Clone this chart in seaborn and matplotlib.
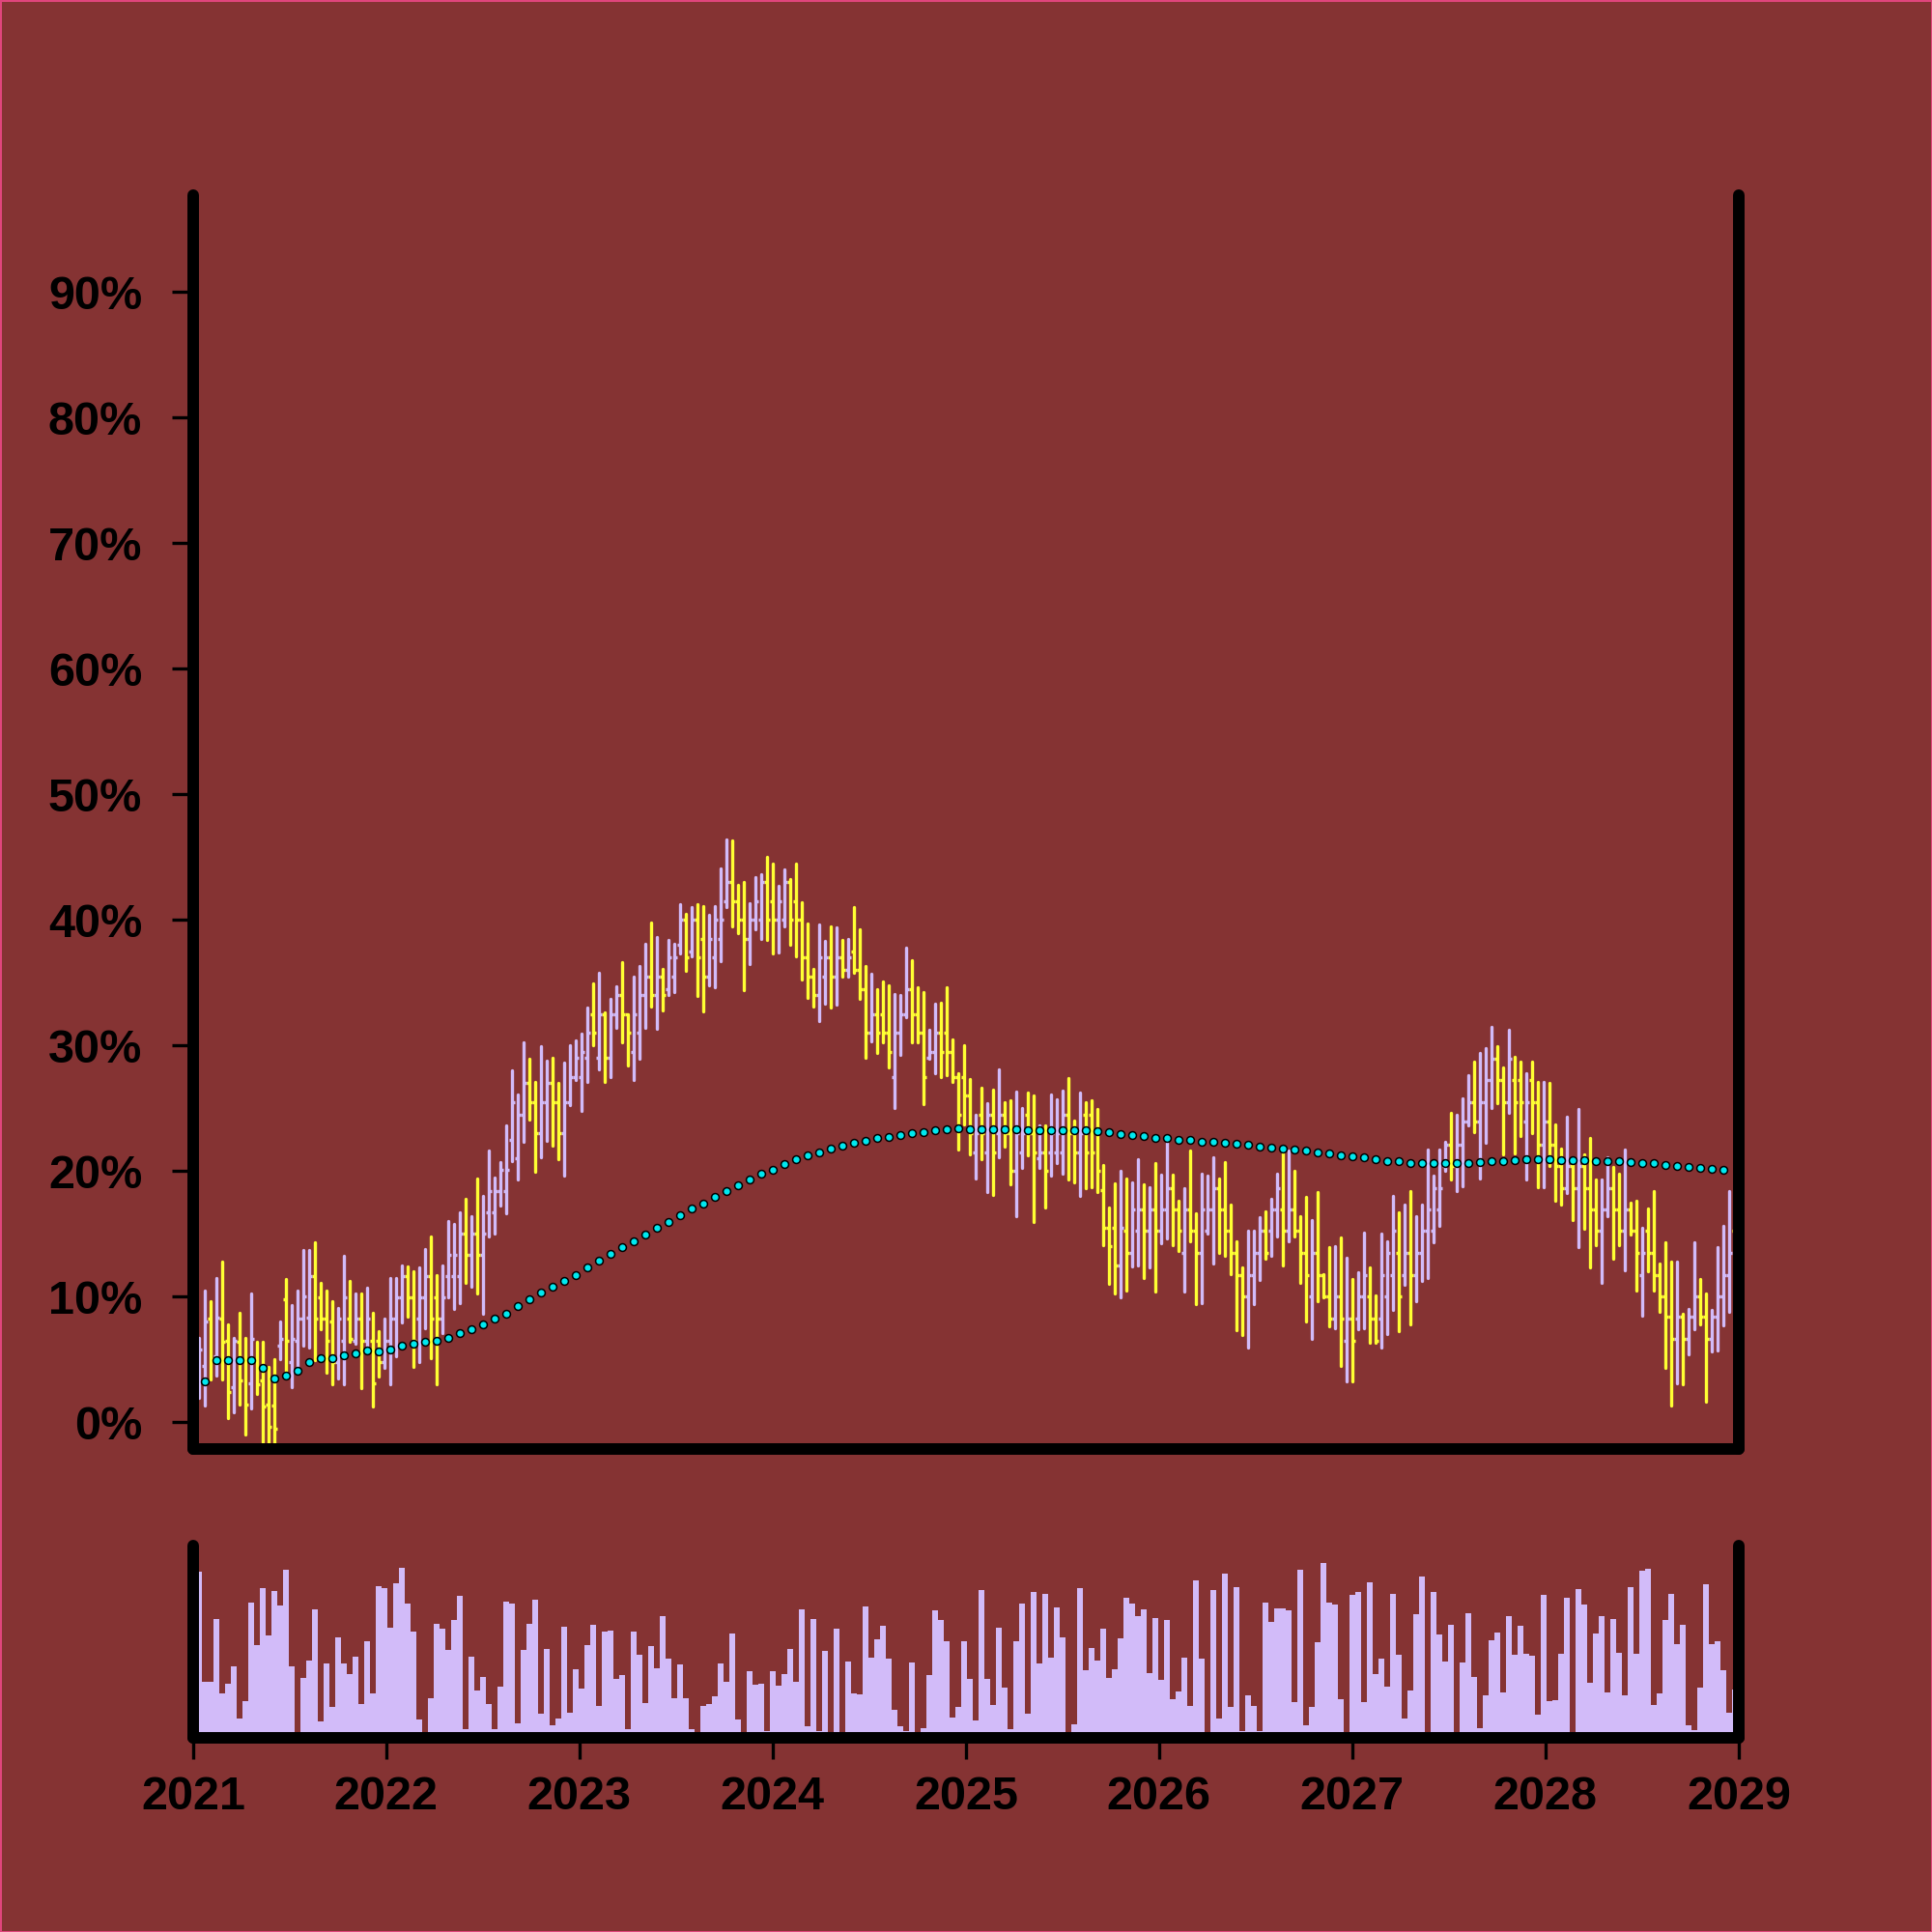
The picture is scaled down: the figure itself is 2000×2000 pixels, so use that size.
import numpy as np
import pandas as pd
import matplotlib
matplotlib.use("Agg")
import matplotlib.pyplot as plt
import matplotlib.dates as mdates
import seaborn as sns

# one bar every ~11 days, 266 bars between 2021 and 2029
dates = pd.date_range("2021-01-12", "2028-12-25", periods=266)

opens = [
    2.6, 4.5, 8.2, 5.2, 8.2, 6.5, 2.8, 6.4, 4.9, 3.1,
    4.9, 3.3, 1.4, 1.3, 6.1, 9.8, 4.8, 6.5, 8.2, 8.3,
    11.6, 9.9, 8.2, 8.0, 4.8, 6.5, 8.2, 6.5, 8.2, 6.5,
    6.5, 6.5, 4.8, 6.5, 8.2, 9.9, 11.6, 9.9, 8.2, 9.9,
    11.6, 9.9, 8.2, 11.6, 11.6, 11.6, 15.0, 13.3, 15.0, 13.3,
    16.7, 16.7, 18.4, 18.4,
    22.5, 21.0, 24.5, 27.0, 25.5, 23.0, 25.5, 27.0, 25.5, 23.0,
    25.5, 27.5, 27.5, 29.0, 32.5, 29.0, 32.5, 29.0, 32.5, 34.0,
    32.5, 29.5, 31.0, 34.0, 35.5, 34.0, 35.5, 34.5, 35.5, 38.0,
    40.0, 37.5, 40.0, 38.5, 35.5, 37.0, 38.5, 41.5, 43.0, 41.5,
    40.0, 38.5, 40.0, 40.0, 43.0, 41.5, 40.0, 40.0, 43.0, 41.5,
    40.0, 37.0, 35.5,
    34.0, 35.5, 37.0, 35.5, 37.0, 36.0, 37.5, 36.0, 34.5, 31.0,
    32.5, 32.5, 31.0, 27.5, 31.0, 32.5, 34.5, 32.5, 31.0, 29.0,
    29.5, 31.0, 31.0, 29.5, 27.5, 27.5, 26.0, 21.5, 24.5, 21.5,
    24.5, 23.0, 24.5, 23.0, 20.0, 21.5, 24.5, 23.0, 21.0, 21.5,
    21.5, 21.5, 21.5, 24.5, 23.0, 21.5, 24.5, 24.5, 23.0, 18.5,
    15.5, 15.5, 12.5,
    15.2, 13.5, 15.2, 16.9, 15.2, 16.9, 15.2, 16.9, 18.6, 16.9,
    13.5, 16.9, 15.2, 13.5, 15.2, 16.9, 18.6, 16.9, 15.2, 13.5,
    11.7, 10.0, 11.7, 13.5, 15.2, 15.2, 16.9, 16.9, 15.2, 16.9,
    15.2, 13.5, 10.0, 13.5, 11.7, 10.0, 8.2, 10.0, 6.5, 8.2,
    8.2, 10.0, 10.0, 8.2, 8.2, 10.0, 11.7, 13.5, 11.7, 13.5,
    11.7, 13.5,
    15.2, 15.2, 16.9, 20.4, 22.1, 20.4, 22.1, 23.9, 25.5, 23.9,
    25.5, 27.2, 28.9, 27.2, 25.5, 27.2, 27.2, 23.9, 27.2, 25.5,
    22.1, 23.9, 22.1, 20.4, 18.6, 20.4, 18.6, 20.4, 18.6, 16.9,
    15.2, 16.9, 18.6, 16.9, 15.2, 16.9, 15.2, 11.7, 15.2, 13.5,
    11.7, 10.0, 8.4, 6.6, 8.4, 6.6, 8.4, 10.0, 8.4, 6.6,
    8.4, 10.0, 11.7, 15.2,
]

highs = [
    6.7, 10.5, 9.6, 11.5, 12.8, 7.8, 6.7, 8.7, 6.7, 10.2,
    6.4, 6.4, 4.4, 5.0, 8.0, 11.4, 9.3, 10.5, 13.7, 13.7,
    14.3, 11.1, 10.5, 9.6, 9.1, 13.2, 11.2, 10.2, 10.2, 10.7,
    8.7, 7.2, 8.2, 11.5, 11.5, 12.5, 12.4, 12.0, 12.3, 13.8,
    14.8, 11.7, 12.5, 16.0, 15.8, 16.7, 17.8, 16.4, 19.4, 18.0,
    21.6, 19.5, 20.7, 23.6,
    28.0, 26.1, 30.2, 28.9, 27.1, 29.9, 28.8, 29.0, 27.0, 28.6,
    30.0, 30.4, 30.9, 33.0, 34.9, 35.8, 32.6, 33.7, 34.7, 36.6,
    32.5, 35.5, 36.3, 38.1, 39.8, 38.6, 36.1, 38.4, 38.1, 41.2,
    40.5, 41.0, 41.2, 41.1, 40.4, 41.1, 44.1, 46.4, 46.3, 42.8,
    43.0, 41.3, 43.4, 43.6, 45.0, 44.5, 42.7, 44.0, 43.2, 44.5,
    41.4, 39.7, 36.1,
    39.6, 38.3, 39.5, 39.4, 38.4, 38.5, 41.0, 39.2, 36.3, 35.7,
    34.5, 35.1, 34.8, 34.1, 34.0, 37.8, 36.8, 34.6, 34.2, 31.2,
    33.3, 33.4, 34.6, 30.5, 27.8, 30.0, 27.3, 24.5, 26.6, 25.4,
    26.5, 28.1, 25.5, 25.6, 26.3, 25.0, 26.2, 26.0, 23.6, 23.6,
    26.1, 25.7, 26.4, 27.4, 24.0, 26.2, 25.5, 25.6, 24.9, 20.5,
    17.1, 19.0, 20.0,
    19.4, 19.1, 20.9, 18.9, 18.7, 20.6, 19.7, 22.2, 19.7, 17.6,
    18.6, 21.6, 16.6, 19.8, 19.6, 21.1, 19.4, 20.7, 17.3, 14.4,
    12.3, 15.2, 15.2, 16.3, 16.8, 17.8, 19.8, 21.5, 21.6, 20.0,
    16.4, 17.9, 16.1, 18.3, 11.8, 13.9, 14.0, 14.7, 13.1, 11.4,
    11.9, 15.1, 12.3, 10.1, 15.0, 14.4, 18.0, 16.7, 17.3, 18.4,
    16.4, 17.3,
    21.7, 19.6, 21.7, 22.3, 24.6, 24.5, 25.8, 27.6, 28.7, 29.4,
    29.8, 31.5, 29.9, 28.2, 31.2, 29.1, 28.7, 27.8, 28.7, 27.1,
    27.1, 27.0, 23.7, 21.8, 24.3, 20.5, 24.9, 21.3, 22.6, 19.3,
    19.3, 21.1, 20.3, 19.8, 21.7, 17.5, 17.6, 15.5, 17.0, 18.4,
    12.6, 14.3, 12.8, 12.8, 8.6, 9.0, 14.3, 11.4, 10.2, 8.9,
    13.9, 15.6, 18.4, 16.0,
]

lows = [
    1.9, 1.3, 3.4, 3.7, 3.4, 0.3, 0.8, 1.4, -1.0, 1.1,
    2.2, -1.6, -2.5, -2.6, 5.0, 4.0, 2.8, 4.3, 6.1, 5.9,
    4.9, 7.4, 3.9, 3.0, 3.5, 3.0, 6.4, 6.2, 2.7, 5.7,
    1.2, 3.6, 4.3, 3.0, 5.2, 7.9, 8.4, 4.4, 4.8, 7.5,
    5.1, 3.0, 7.1, 9.9, 9.0, 9.5, 11.1, 10.8, 10.2, 8.6,
    14.8, 15.0, 17.2, 16.6,
    20.8, 19.3, 22.3, 24.1, 19.9, 21.1, 22.4, 22.0, 20.9, 19.6,
    25.2, 27.2, 24.8, 27.1, 30.0, 28.1, 27.1, 27.5, 31.4, 30.2,
    28.4, 27.2, 28.9, 31.4, 33.1, 31.3, 32.8, 34.0, 34.2, 37.3,
    35.9, 37.1, 33.9, 32.7, 34.8, 34.6, 36.7, 41.0, 39.5, 38.9,
    34.4, 36.5, 39.2, 38.5, 38.4, 37.3, 37.4, 39.5, 38.0, 37.1,
    35.2, 33.8, 33.1,
    31.9, 33.3, 33.0, 33.2, 35.5, 35.5, 35.8, 33.7, 29.0, 30.3,
    29.4, 30.2, 28.2, 25.0, 29.2, 32.2, 30.2, 30.2, 25.3, 28.9,
    27.8, 27.5, 27.6, 27.1, 21.7, 23.7, 21.3, 19.4, 20.9, 18.3,
    18.1, 21.1, 21.9, 18.9, 16.4, 20.2, 21.2, 15.9, 20.2, 17.1,
    19.6, 20.6, 19.8, 19.3, 19.1, 18.0, 18.6, 18.7, 18.3, 14.1,
    11.0, 10.2, 9.9,
    10.5, 12.4, 12.5, 11.5, 12.3, 10.4, 14.2, 14.6, 14.1, 13.6,
    10.4, 14.4, 9.4, 9.5, 15.0, 12.6, 13.5, 13.2, 11.8, 7.3,
    6.9, 5.9, 9.4, 11.3, 13.0, 13.2, 14.8, 12.5, 14.4, 14.8,
    11.1, 8.0, 6.6, 9.6, 9.9, 7.6, 7.5, 4.5, 3.2, 3.2,
    7.4, 7.5, 6.3, 6.3, 5.9, 7.0, 8.9, 7.2, 10.9, 7.8,
    9.6, 11.2,
    11.5, 14.3, 15.6, 20.0, 19.3, 18.4, 18.8, 23.6, 23.1, 19.4,
    22.2, 25.0, 25.4, 21.3, 24.6, 21.4, 22.8, 19.3, 23.0, 18.7,
    18.7, 20.4, 17.6, 17.3, 18.2, 16.1, 13.9, 15.4, 12.3, 14.1,
    11.1, 16.4, 13.0, 14.1, 12.1, 14.9, 10.5, 8.5, 12.0, 10.5,
    8.8, 4.3, 1.3, 3.1, 3.0, 5.4, 7.4, 7.8, 1.6, 5.6,
    5.7, 7.7, 8.8, 11.0,
]

closes = [
    5.8, 8.0, 5.0, 8.3, 6.4, 2.4, 6.5, 3.3, 1.4, 6.6,
    3.0, 1.2, -0.4, -0.5, 6.6, 6.5, 6.6, 8.2, 10.0, 11.6,
    8.2, 8.2, 6.5, 4.8, 8.2, 9.9, 6.6, 8.2, 6.5, 8.2,
    3.1, 4.8, 6.5, 8.2, 9.9, 11.6, 9.9, 6.5, 9.9, 11.6,
    8.2, 8.2, 9.9, 13.3, 13.3, 15.0, 13.3, 15.0, 13.3, 15.0,
    18.4, 18.4, 20.1, 20.1,
    25.5, 24.5, 27.0, 25.5, 23.0, 25.5, 27.0, 25.5, 23.0, 25.5,
    27.5, 29.0, 29.5, 31.0, 31.0, 32.5, 29.0, 32.5, 34.0, 32.5,
    31.0, 32.5, 34.0, 35.5, 34.0, 35.5, 34.0, 37.0, 37.0, 40.0,
    37.0, 40.0, 37.0, 35.5, 38.5, 40.0, 40.0, 43.0, 41.5, 40.0,
    38.5, 40.0, 41.5, 43.0, 40.0, 40.0, 41.5, 43.0, 40.0, 40.0,
    37.0, 35.5, 34.0,
    37.0, 37.0, 35.5, 37.0, 36.0, 37.0, 36.0, 34.5, 31.0, 32.5,
    31.0, 31.0, 29.5, 31.0, 32.5, 34.5, 32.5, 31.0, 27.5, 29.5,
    31.0, 29.5, 29.5, 27.5, 24.5, 26.0, 23.0, 23.0, 23.0, 24.5,
    21.5, 24.5, 23.0, 20.0, 23.0, 23.0, 23.0, 21.5, 21.5, 20.0,
    23.0, 23.0, 24.5, 23.0, 21.5, 23.0, 21.5, 21.5, 20.0, 15.5,
    14.0, 12.5, 15.5,
    13.5, 16.9, 16.9, 15.2, 16.9, 15.2, 16.9, 18.6, 16.9, 15.2,
    16.9, 15.2, 13.5, 16.9, 16.9, 18.6, 16.9, 15.2, 13.5, 11.7,
    10.0, 11.7, 13.5, 15.2, 13.5, 16.9, 18.6, 15.2, 16.9, 15.2,
    13.5, 11.7, 13.5, 11.7, 10.0, 8.2, 10.0, 8.2, 8.2, 6.5,
    10.0, 11.7, 8.2, 6.5, 11.7, 13.5, 15.2, 10.0, 13.5, 11.7,
    13.5, 15.2,
    16.9, 18.6, 18.6, 22.1, 20.4, 22.1, 23.9, 25.5, 23.9, 25.5,
    27.2, 28.9, 27.2, 25.5, 28.9, 25.5, 25.5, 25.5, 25.5, 22.1,
    23.9, 22.1, 20.4, 18.6, 20.4, 18.6, 20.4, 18.6, 16.9, 15.2,
    16.9, 18.6, 16.9, 15.2, 16.9, 15.2, 13.5, 13.5, 13.5, 11.7,
    10.0, 8.4, 6.6, 8.4, 6.6, 8.4, 10.0, 8.4, 6.6, 8.4,
    10.0, 11.7, 13.5, 13.5,
]

volume = [
    517, 175, 175, 369, 137, 167, 222, 59, 114, 419,
    289, 465, 319, 457, 412, 522, 222, 15, 187, 240,
    398, 52, 232, 95, 311, 232, 197, 252, 106, 299,
    137, 470, 465, 341, 479, 527, 416, 330, 57, 15,
    122, 355, 339, 273, 367, 442, 27, 251, 146, 188,
    105, 27, 158, 422, 418, 45, 272, 354, 428, 76,
    276, 40, 60, 344, 79, 212, 152, 287, 350, 100,
    329, 332, 184, 196, 28, 329, 258, 107, 285, 215,
    379, 247, 122, 227, 122, 27, 15, 100, 105, 128,
    230, 175, 324, 57, 15, 206, 164, 167, 20, 206,
    161, 199, 275, 173, 399, 37, 369, 21, 270, 15,
    340, 15, 236, 138, 135, 408, 248, 306, 347, 245,
    86, 36, 20, 234, 15, 29, 196, 397, 365, 299,
    64, 95, 301,
    183, 54, 459, 183, 102, 341, 155, 28, 300, 418,
    75, 452, 232, 447, 248, 404, 313, 15, 42, 464,
    210, 279, 241, 339, 185, 212, 309, 434, 416, 378,
    400, 200, 372, 181, 365, 119, 144, 248, 99, 488,
    247, 15, 460, 59, 509, 97, 467, 22, 132, 99,
    20, 420, 359, 403, 401, 396, 112, 522, 38, 95,
    298, 544, 420, 414, 119, 19, 443, 453, 111, 484,
    199, 245, 159, 446, 259, 60, 146, 384, 500, 19,
    452, 321, 236, 350, 15, 235, 386, 189, 29, 132,
    302, 327, 140, 377, 259, 347, 261, 254, 72, 444,
    113, 117, 261, 434, 15, 461, 414, 172, 324, 377,
    140, 368, 265, 131, 469, 260, 519, 524, 101, 138,
    367, 448, 291, 351, 39, 23, 156, 476, 291, 301,
    209, 77, 150,
]

# running average of the close, shown on every other bar
avg_line = [
    3.2, 4.9, 4.9, 4.9, 4.9, 4.3, 3.5, 3.7, 4.1, 4.8,
    5.1, 5.1, 5.3, 5.5, 5.7, 5.6, 5.8, 6.1, 6.2, 6.4,
    6.5, 6.7, 7.1, 7.4, 7.8, 8.2, 8.6,
    9.2, 9.75, 10.3, 10.75, 11.2, 11.7, 12.3, 12.85, 13.4, 13.9,
    14.4, 14.95, 15.45, 15.95, 16.45, 17.0, 17.4, 17.9, 18.4, 18.85,
    19.3, 19.75, 20.1, 20.55, 20.9, 21.2,
    21.5, 21.75, 22.0, 22.25, 22.4, 22.6, 22.7, 22.85, 23.0, 23.1,
    23.25, 23.35, 23.4, 23.35, 23.35, 23.35, 23.3, 23.3, 23.25, 23.25,
    23.25, 23.25, 23.2, 23.2, 23.15, 23.05,
    22.95, 22.85, 22.75, 22.65, 22.6, 22.5, 22.45, 22.35, 22.3, 22.25,
    22.15, 22.05, 21.9, 21.85, 21.8, 21.7, 21.6, 21.5, 21.4, 21.25,
    21.15, 21.05, 20.9, 20.8, 20.75, 20.65, 20.6,
    20.6, 20.6, 20.65, 20.65, 20.7, 20.75, 20.8, 20.85, 20.9, 20.9,
    20.9, 20.85, 20.85, 20.85, 20.8, 20.75, 20.75, 20.7, 20.65, 20.6,
    20.5, 20.4, 20.3, 20.2, 20.15, 20.05,
]

year_ticks = pd.date_range("2021-01-01", "2029-01-01", freq="YS")
pct_ticks = list(range(0, 100, 10))

BG = "#853333"
LAV = "#d2bbf9"
YEL = "#ffff33"
CYAN = "#00e8ef"

sns.set_theme(style="ticks")
plt.rcParams["font.family"] = ["Liberation Sans", "DejaVu Sans"]
plt.rcParams["axes.facecolor"] = BG

df = pd.DataFrame({"date": dates, "open": opens, "high": highs,
                   "low": lows, "close": closes, "volume": volume})
colors = np.where(df["close"] >= df["open"], LAV, YEL)

fig = plt.figure(figsize=(10, 10), dpi=200, facecolor=BG,
                 edgecolor="#e0457c", linewidth=1.0)
ax = fig.add_axes([0.1, 0.25, 0.8, 0.649])
axv = fig.add_axes([0.1, 0.1005, 0.8, 0.0995], sharex=ax)

# ohlc bars
half = pd.Timedelta(days=5)
ax.vlines(df["date"], df["low"], df["high"], colors=colors, lw=1.2,
          capstyle="round", zorder=2)
ax.hlines(df["open"], df["date"] - half, df["date"], colors=colors, lw=1.2, zorder=2)
ax.hlines(df["close"], df["date"], df["date"] + half, colors=colors, lw=1.2, zorder=2)

# running average dots
sns.scatterplot(x=dates[1:264:2], y=avg_line, ax=ax, s=8, color=CYAN,
                edgecolor="black", linewidth=0.55, zorder=4, legend=False)

# volume
axv.bar(df["date"], df["volume"], width=10.96, color=LAV, linewidth=0, zorder=2)

ax.set_xlim(pd.Timestamp("2021-01-01"), pd.Timestamp("2029-01-01"))
ax.set_ylim(-2.15, 97.7)
axv.set_ylim(0, 597)

ax.set_yticks(pct_ticks)
ax.set_yticklabels([f"{t}%" for t in pct_ticks])
ax.tick_params(axis="y", length=8, width=1.2, pad=11, labelsize=17.5, colors="black")
ax.tick_params(axis="x", bottom=False, labelbottom=False)

axv.set_xticks(year_ticks)
axv.xaxis.set_major_formatter(mdates.DateFormatter("%Y"))
axv.tick_params(axis="x", length=8, width=1.2, pad=6, labelsize=17.5, colors="black")
axv.tick_params(axis="y", left=False, labelleft=False)

for a in (ax, axv):
    a.set_xlabel("")
    a.set_ylabel("")
    a.grid(False)
    a.spines["top"].set_visible(False)
    for side in ("left", "right", "bottom"):
        a.spines[side].set_linewidth(4.3)
        a.spines[side].set_color("black")
        a.spines[side].set_capstyle("round")
        a.spines[side].set_zorder(5)
    for lab in a.get_xticklabels() + a.get_yticklabels():
        lab.set_fontweight("bold")

fig.savefig("out.png", dpi=200, facecolor=BG)
